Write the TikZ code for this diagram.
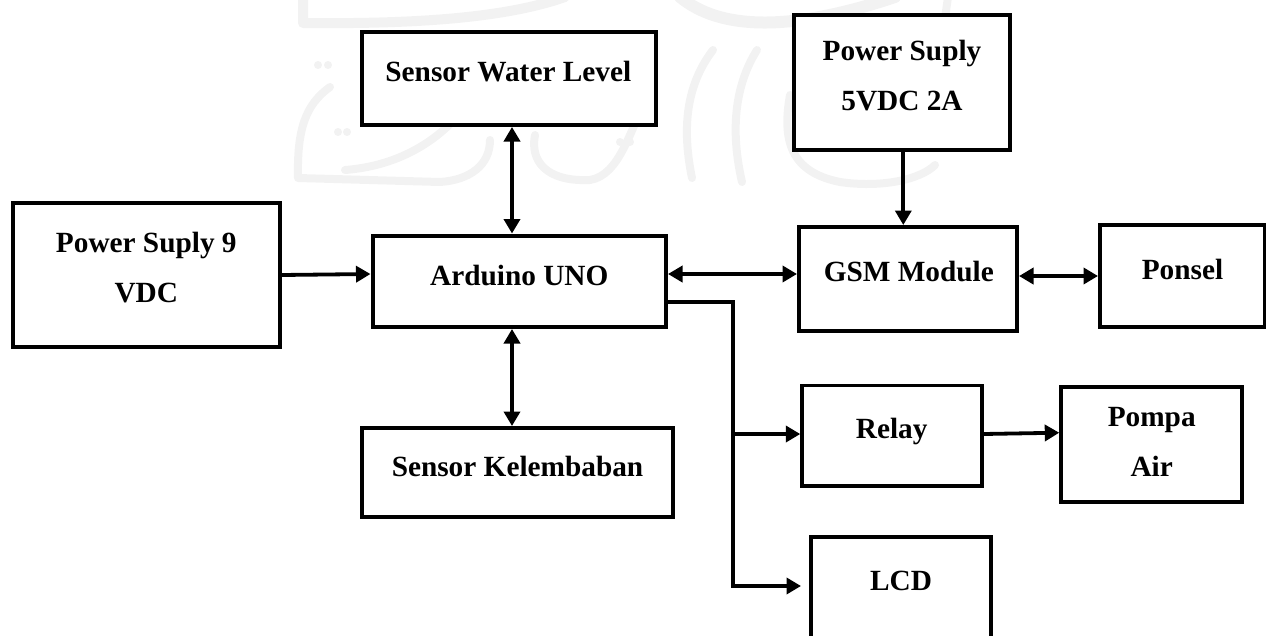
\documentclass[tikz,border=0pt]{standalone}
\usepackage{fontspec}
\setmainfont{Liberation Serif}
\usetikzlibrary{arrows.meta}
% one line of text, centred dx from the node centre, baseline dy above it
\newcommand{\cellline}[3]{\raisebox{#2pt}[0pt][0pt]{\makebox[0pt]{\kern #1pt\kern #1pt #3}}}
\definecolor{watergray}{HTML}{F2F2F2}
\tikzset{
  blockbox/.style={draw=black,fill=white,line width=4pt,rectangle,inner sep=0pt,font=\fontsize{29.3}{48}\selectfont\bfseries},
  thinbox/.style={blockbox,line width=3.4pt},
  link/.style={draw=black,line width=3.8pt,-{Triangle[length=14.5pt,width=16pt]}},
  linkboth/.style={draw=black,line width=3.8pt,{Triangle[length=14.5pt,width=16pt]}-{Triangle[length=14.5pt,width=16pt]}},
  linkplain/.style={draw=black,line width=3.8pt},
  water/.style={draw=watergray,line width=8pt,line cap=round,line join=round}
}
\begin{document}
\begin{tikzpicture}[x=1pt,y=-1pt]
\useasboundingbox (0,0) rectangle (1266,635);
% faint watermark strokes
\draw[water,line width=10pt] (303,-5) -- (303,23) .. controls (400,24) and (500,20) .. (565,-3);
\draw[water,line width=12pt] (680,-3) .. controls (720,30) and (790,32) .. (895,-3);
\draw[water] (948,-3) -- (944,25);
\fill[watergray] (318,65) circle (4pt) (328,65) circle (4pt) (338,132) circle (4pt) (347,132) circle (4pt) (620,142) circle (4pt) (630,142) circle (4pt);
\draw[water] (330,87) .. controls (305,105) and (297,130) .. (298,178) -- (440,182) .. controls (470,180) and (490,165) .. (490,140);
\draw[water] (470,100) .. controls (450,130) and (410,165) .. (345,170);
\draw[water] (535,135) .. controls (530,160) and (545,182) .. (590,180) .. controls (620,175) and (630,130) .. (650,90);
\draw[water] (713,50) .. controls (690,80) and (680,120) .. (692,178);
\draw[water] (757,50) .. controls (735,85) and (730,130) .. (742,182);
\draw[water] (790,95) .. controls (782,140) and (790,172) .. (840,182) .. controls (880,188) and (920,180) .. (935,165);
% blocks
\node[blockbox,minimum width=294pt,minimum height=93pt] (swl) at (508.5,78.5) {\cellline{-0.2}{-2.8}{Sensor Water Level}};
\node[blockbox,minimum width=216pt,minimum height=135pt] (ps5) at (902,82.5) {\cellline{0}{22.5}{Power Suply}\cellline{0}{-27.5}{5VDC 2A}};
\node[blockbox,minimum width=267pt,minimum height=144pt] (ps9) at (146,275) {\cellline{0.3}{22.7}{Power Suply 9}\cellline{0.3}{-27.7}{VDC}};
\node[blockbox,minimum width=293.5pt,minimum height=91.5pt] (ard) at (519.25,281.25) {\cellline{0}{-3.75}{Arduino UNO}};
\node[blockbox,minimum width=218pt,minimum height=104pt] (gsm) at (908,279) {\cellline{0.8}{-2.7}{GSM Module}};
\node[blockbox,minimum width=165pt,minimum height=102pt] (pon) at (1182.5,276) {\cellline{0}{-3}{Ponsel}};
\node[thinbox,minimum width=180pt,minimum height=100.5pt] (rel) at (892,435.75) {\cellline{-0.3}{-2.25}{Relay}};
\node[thinbox,minimum width=181pt,minimum height=115pt] (pom) at (1151.5,444.5) {\cellline{0.2}{17.8}{Pompa}\cellline{0.2}{-32.2}{Air}};
\node[blockbox,minimum width=311pt,minimum height=89pt] (kel) at (517.5,472.5) {\cellline{0}{-3.5}{Sensor Kelembaban}};
\node[blockbox,minimum width=180pt,minimum height=120pt] (lcd) at (901,597) {\cellline{0}{7}{LCD}};
% connectors
\draw[linkboth] ([xshift=-7.25pt]ard.north) -- ([xshift=3.5pt]swl.south);
\draw[linkboth] ([xshift=-7.25pt]ard.south) -- ([xshift=-5.5pt]kel.north);
\draw[link] ([xshift=1.3pt]ps5.south) -- ([xshift=-4.7pt]gsm.north);
\draw[link] (ps9.east) -- ([yshift=7.25pt]ard.west);
\draw[linkboth] ([yshift=7.25pt]ard.east) -- ([yshift=5pt]gsm.west);
\draw[linkboth] ([yshift=3pt]gsm.east) -- (pon.west);
\draw[link] ([yshift=1.75pt]rel.east) -- ([yshift=11.8pt]pom.west);
\coordinate (bus) at (733,301.7);
\coordinate (tee) at (733,434);
\draw[linkplain,line join=miter] ([yshift=-20.45pt]ard.east) -- (bus) -- (tee);
\draw[link] (tee) -- ([yshift=1.75pt]rel.west);
\draw[link,line join=miter] (tee) |- ([xshift=-8pt,yshift=11pt]lcd.west);
\end{tikzpicture}
\end{document}
